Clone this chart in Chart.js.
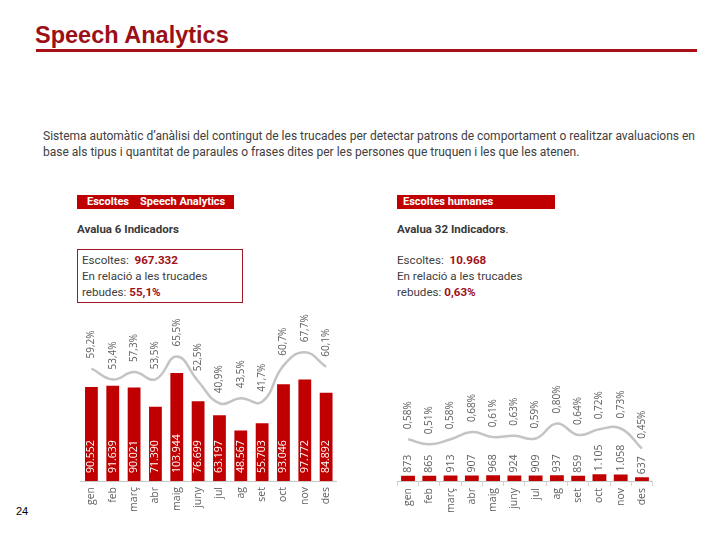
<!DOCTYPE html>
<html>
<head>
<meta charset="utf-8">
<script src="https://cdn.jsdelivr.net/npm/chart.js@4"></script>
<style>
    body { margin: 0; width: 720px; height: 540px; position: relative; background: #fff; overflow: hidden; font-family: Roboto, "Liberation Sans", sans-serif; color: #404040; }
    .abs { position: absolute; white-space: nowrap; }
    .title { left: 35px; top: 22px; font: bold 23.5px "Liberation Sans", Arial, sans-serif; color: #9c0f16; }
    .rule { left: 36px; top: 49px; width: 661px; height: 3px; background: #a80f17; }
    .para { left: 43px; top: 128px; font-size: 12px; line-height: 16px; color: #404040; }
    .tag { height: 14px; line-height: 14px; background: #c00000; color: #fff; font-weight: bold; font-size: 11px; }
    .head { font-weight: bold; font-size: 11.5px; color: #3a3a3a; }
    .info { font-size: 11.6px; line-height: 16px; color: #404040; }
    .info b { color: #a0101a; }
    .box { left: 77px; top: 249px; width: 164px; height: 52px; border: 1px solid #9c1c22; }
    canvas { position: absolute; }
</style>
</head>
<body>
<div class="abs title">Speech Analytics</div>
<div class="abs rule"></div>
<div class="abs para">Sistema automàtic d’anàlisi del contingut de les trucades per detectar patrons de comportament o realitzar avaluacions en<br>base als tipus i quantitat de paraules o frases dites per les persones que truquen i les que les atenen.</div>

<div class="abs tag" style="left:77px; top:195px; width:157px;"><span style="margin-left:10px">Escoltes</span><span style="margin-left:11px">Speech Analytics</span></div>
<div class="abs head" style="left:77px; top:222px;">Avalua 6 Indicadors</div>
<div class="abs box"></div>
<div class="abs info" style="left:82px; top:252px;">Escoltes:&nbsp; <b>967.332</b><br>En relació a les trucades<br>rebudes: <b>55,1%</b></div>

<div class="abs tag" style="left:397px; top:195px; width:158px;"><span style="margin-left:6px">Escoltes humanes</span></div>
<div class="abs head" style="left:397px; top:222px;">Avalua 32 Indicadors<span style="font-weight:normal">.</span></div>
<div class="abs info" style="left:397px; top:252px;">Escoltes:&nbsp; <b>10.968</b><br>En relació a les trucades<br>rebudes: <b>0,63%</b></div>

<div class="abs" style="left:16px; top:505px; font: 11px 'Liberation Sans', Arial, sans-serif; color:#000;">24</div>

<canvas id="autoChart" width="270" height="226" style="left:75px; top:294px;"></canvas>
<canvas id="humanChart" width="266" height="226" style="left:392px; top:294px;"></canvas>

<script>
// Monthly data
const months = ['gen', 'feb', 'març', 'abr', 'maig', 'juny', 'jul', 'ag', 'set', 'oct', 'nov', 'des'];

// Escoltes Speech Analytics
const autoCalls = [90552, 91639, 90021, 71390, 103944, 76699, 63197, 48567, 55703, 93046, 97772, 84892];
const autoPct = [59.2, 53.4, 57.3, 53.5, 65.5, 52.5, 40.9, 43.5, 41.7, 60.7, 67.7, 60.1];

// Escoltes humanes
const humanCalls = [873, 865, 913, 907, 968, 924, 909, 937, 859, 1105, 1058, 637];
const humanPct = [0.58, 0.51, 0.58, 0.68, 0.61, 0.63, 0.59, 0.80, 0.64, 0.72, 0.73, 0.45];

const labelFont = '"Open Sans", Roboto, sans-serif';
const labelGrey = '#5f5f5f';

function fmtThousands(v) {
    return String(v).replace(/\B(?=(\d{3})+(?!\d))/g, '.');
}

function fmtPct(v, digits) {
    return v.toFixed(digits).replace('.', ',') + '%';
}

// Draw rotated text reading bottom to top, starting at (x, y)
function upText(ctx, text, x, y, color, size) {
    ctx.save();
    ctx.translate(x, y);
    ctx.rotate(-Math.PI / 2);
    ctx.font = size + 'px ' + labelFont;
    ctx.fillStyle = color;
    ctx.textAlign = 'left';
    ctx.textBaseline = 'middle';
    ctx.fillText(text, 0, 0);
    ctx.restore();
}

// Value labels for bars and percentage labels over the line
const valueLabels = {
    id: 'valueLabels',
    afterDatasetsDraw(chart, args, opts) {
        const ctx = chart.ctx;
        const bars = chart.getDatasetMeta(0).data;
        const points = chart.getDatasetMeta(1).data;
        bars.forEach((bar, i) => {
            const text = fmtThousands(chart.data.datasets[0].data[i]);
            if (opts.inside) {
                upText(ctx, text, bar.x, bar.base - 8, '#ffffff', 10.5);
            } else {
                upText(ctx, text, bar.x, bar.y - 3, labelGrey, 10.5);
            }
        });
        points.forEach((pt, i) => {
            const text = fmtPct(chart.data.datasets[1].data[i], opts.digits);
            upText(ctx, text, pt.x, pt.y - 10, labelGrey, 10);
        });
    }
};

function makeChart(id, calls, pct, cfg) {
    return new Chart(document.getElementById(id), {
        type: 'bar',
        data: {
            labels: months,
            datasets: [{
                data: calls,
                backgroundColor: '#c00000',
                barPercentage: cfg.barPct,
                categoryPercentage: 1,
                yAxisID: 'calls',
                order: 1
            }, {
                type: 'line',
                data: pct,
                borderColor: '#c4c4c4',
                borderWidth: 2.5,
                tension: 0.45,
                pointRadius: 0,
                yAxisID: 'pct',
                order: 2
            }]
        },
        options: {
            responsive: false,
            animation: false,
            layout: { padding: { left: cfg.padL, right: cfg.padR, top: 0, bottom: 0 } },
            plugins: {
                legend: { display: false },
                tooltip: { enabled: false },
                valueLabels: { inside: cfg.inside, digits: cfg.digits }
            },
            scales: {
                x: {
                    grid: {
                        display: cfg.ticks,
                        drawOnChartArea: false,
                        drawTicks: cfg.ticks,
                        tickLength: 5,
                        color: '#d4d4d4'
                    },
                    border: { display: true, color: '#c8c8c8', width: 1 },
                    ticks: {
                        minRotation: 90,
                        maxRotation: 90,
                        padding: cfg.ticks ? 2 : 6,
                        color: labelGrey,
                        font: { family: labelFont, size: 10.5 }
                    },
                    afterFit: s => { s.height = 39; }
                },
                calls: { display: false, min: 0, max: cfg.callsMax },
                pct: { display: false, min: 0, max: cfg.pctMax }
            }
        },
        plugins: [valueLabels]
    });
}

makeChart('autoChart', autoCalls, autoPct, {
    barPct: 0.6, padL: 5.75, padR: 6.25, inside: true, digits: 1,
    ticks: false, callsMax: 180000, pctMax: 98.4
});

makeChart('humanChart', humanCalls, humanPct, {
    barPct: 0.65, padL: 5.4, padR: 5.4, inside: false, digits: 2,
    ticks: true, callsMax: 31000, pctMax: 2.6
});
</script>
</body>
</html>
